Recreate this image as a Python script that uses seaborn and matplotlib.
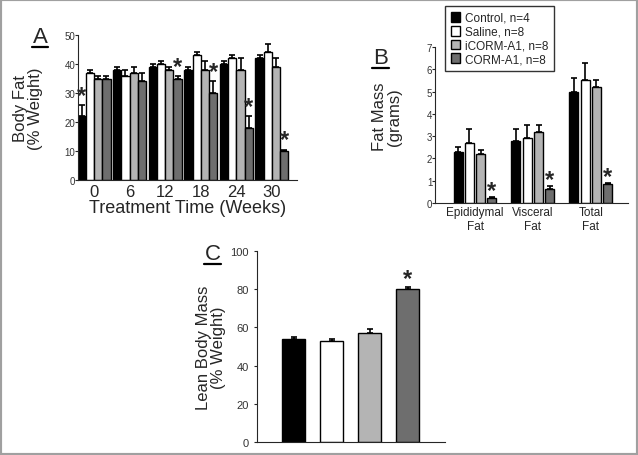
import numpy as np
import pandas as pd
import seaborn as sns
import matplotlib.pyplot as plt
from matplotlib.patches import Rectangle
from matplotlib.lines import Line2D

# %%
groups = ['Control, n=4', 'Saline, n=8', 'iCORM-A1, n=8', 'CORM-A1, n=8']
colors = ['#000000', '#ffffff', '#b4b4b4', '#6e6e6e']

# panel A: body fat (% weight) by treatment week
weeks = ['0', '6', '12', '18', '24', '30']
fat_control = [22, 38, 39, 38, 40, 42]
fat_saline = [37, 36, 40, 43, 42, 44]
fat_icorm = [35, 37, 38, 38, 38, 39]
fat_corm = [35, 34, 35, 30, 18, 10]
fat_control_err = [4, 1, 1, 1, 1, 1]
fat_saline_err = [1, 2, 1, 1.2, 1, 3]
fat_icorm_err = [1, 2, 1, 3, 4, 3]
fat_corm_err = [1, 3, 1, 4, 4, 0.5]
fat_control_sig = [1, 0, 0, 0, 0, 0]
fat_corm_sig = [0, 0, 1, 1, 1, 1]

# panel B: fat mass (grams)
depots = ['Epididymal\nFat', 'Visceral\nFat', 'Total\nFat']
mass_control = [2.3, 2.8, 5.0]
mass_saline = [2.7, 2.9, 5.5]
mass_icorm = [2.2, 3.2, 5.2]
mass_corm = [0.22, 0.65, 0.85]
mass_control_err = [0.2, 0.5, 0.6]
mass_saline_err = [0.6, 0.6, 0.8]
mass_icorm_err = [0.2, 0.3, 0.3]
mass_corm_err = [0.05, 0.1, 0.03]
mass_corm_sig = [1, 1, 1]

# panel C: lean body mass (% weight)
lean = [54, 53, 57, 80]
lean_err = [1, 1, 2, 1]
lean_sig = [0, 0, 0, 1]

# %%
dfA = pd.DataFrame({
    'week': weeks * 4,
    'group': np.repeat(groups, len(weeks)),
    'val': fat_control + fat_saline + fat_icorm + fat_corm,
    'err': fat_control_err + fat_saline_err + fat_icorm_err + fat_corm_err,
    'sig': fat_control_sig + [0] * 6 + [0] * 6 + fat_corm_sig,
})
dfB = pd.DataFrame({
    'depot': depots * 4,
    'group': np.repeat(groups, len(depots)),
    'val': mass_control + mass_saline + mass_icorm + mass_corm,
    'err': mass_control_err + mass_saline_err + mass_icorm_err + mass_corm_err,
    'sig': [0] * 9 + mass_corm_sig,
})
dfC = pd.DataFrame({'cat': groups, 'group': groups, 'val': lean, 'err': lean_err, 'sig': lean_sig})

sns.set_style('ticks')
plt.rcParams['font.family'] = ['Liberation Sans', 'DejaVu Sans']
pal = dict(zip(groups, colors))


def add_errors(ax, df, xcol, cats, pad):
    # one BarContainer per hue level, bars in category order
    for g, cont in zip(groups, ax.containers):
        sub = df[df['group'] == g].set_index(xcol)
        sub = sub.loc[[c for c in cats if c in sub.index]]
        xs = [p.get_x() + p.get_width() / 2 for p in cont.patches]
        hs = sub['val'].values
        es = sub['err'].values
        ax.errorbar(xs, hs, yerr=[np.zeros(len(es)), es], fmt='none', ecolor='black',
                    elinewidth=1.2, capsize=2, capthick=1.2, zorder=1)
        for x, h, e, s in zip(xs, hs, es, sub['sig'].values):
            if s:
                ax.text(x, h + e + pad, '*', ha='center', va='center', fontsize=17,
                        fontweight='bold')


def panel_letter(fig, x, y, s):
    fig.text(x, y, s, fontsize=16, ha='center', va='baseline')
    fig.add_artist(Line2D([x - 0.013, x + 0.013], [y - 0.011, y - 0.011],
                          transform=fig.transFigure, color='black', lw=1.6))


fig = plt.figure(figsize=(6.38, 4.56), dpi=100)
fig.patches.append(Rectangle((0, 0), 1, 1, transform=fig.transFigure, fill=False,
                             edgecolor='#a0a0a0', linewidth=3))

# %% panel A
axA = fig.add_axes([0.1223, 0.603, 0.343, 0.318])
sns.barplot(data=dfA, x='week', y='val', hue='group', order=weeks, hue_order=groups,
            palette=pal, edgecolor='black', linewidth=1, width=0.93, errorbar=None,
            legend=False, ax=axA)
add_errors(axA, dfA, 'week', weeks, 3.3)
axA.set_xlim(-0.45, 5.7)
axA.set_ylim(0, 50)
axA.set_yticks(range(0, 51, 10))
axA.tick_params(axis='y', labelsize=7, length=2, pad=0, labelcolor='#333333')
axA.tick_params(axis='x', labelsize=12, length=0, pad=3)
axA.set_xlabel('Treatment Time (Weeks)', fontsize=13, labelpad=0)
axA.set_ylabel('Body Fat\n(% Weight)', fontsize=12, linespacing=1.0)
axA.yaxis.set_label_coords(-0.16, 0.5)
sns.despine(ax=axA)
panel_letter(fig, 0.063, 0.905, 'A')

# %% panel B
axB = fig.add_axes([0.682, 0.5526, 0.302, 0.342])
sns.barplot(data=dfB, x='depot', y='val', hue='group', order=depots, hue_order=groups,
            palette=pal, edgecolor='black', linewidth=1, width=0.78, gap=0.2,
            errorbar=None, ax=axB)
add_errors(axB, dfB, 'depot', depots, 0.3)
axB.set_xlim(-0.69, 2.64)
axB.set_ylim(0, 7)
axB.set_yticks(range(0, 8))
axB.tick_params(axis='y', labelsize=7, length=2, pad=0, labelcolor='#333333')
axB.tick_params(axis='x', labelsize=8.5, length=0, pad=2)
axB.set_xlabel('')
axB.set_ylabel('Fat Mass\n(grams)', fontsize=12, linespacing=1.0)
axB.yaxis.set_label_coords(-0.17, 0.56)
sns.despine(ax=axB)
axB.legend(loc='upper left', bbox_to_anchor=(0.052, 1.263), fontsize=8.5, frameon=True,
           fancybox=False, edgecolor='black', handlelength=0.8, handleheight=0.9,
           handletextpad=0.4, borderpad=0.5, labelspacing=0.15, borderaxespad=0)
panel_letter(fig, 0.596, 0.86, 'B')

# %% panel C
axC = fig.add_axes([0.403, 0.0285, 0.295, 0.419])
sns.barplot(data=dfC, x='cat', y='val', hue='group', order=groups, hue_order=groups,
            palette=pal, edgecolor='black', linewidth=1, width=0.6, errorbar=None,
            legend=False, ax=axC)
add_errors(axC, dfC, 'cat', groups, 4.7)
axC.set_xlim(-0.96, 3.99)
axC.set_ylim(0, 100)
axC.set_yticks(range(0, 101, 20))
axC.set_xticks([])
axC.tick_params(axis='y', labelsize=8, length=2, pad=4, labelcolor='#333333')
axC.set_xlabel('')
axC.set_ylabel('Lean Body Mass\n(% Weight)', fontsize=12, linespacing=1.0)
axC.yaxis.set_label_coords(-0.165, 0.5)
sns.despine(ax=axC)
panel_letter(fig, 0.333, 0.43, 'C')

fig.savefig('out.png', dpi=100)
